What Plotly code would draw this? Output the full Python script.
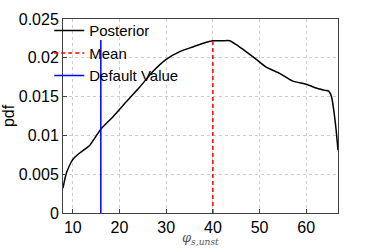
import plotly.graph_objects as go

phi = [7.9, 8.6, 10.0, 11.4, 13.6, 16.0, 18.6, 21.4, 24.3, 27.1, 30.0, 32.9, 35.7, 38.6, 40.0,
       42.0, 43.6, 45.0, 47.1, 49.3, 51.4, 54.3, 57.1, 60.0, 62.1, 64.0, 64.8, 65.4, 65.9, 66.4, 66.8]
pdf = [0.0032, 0.0051, 0.0069, 0.0077, 0.0087, 0.0108, 0.0124, 0.0143, 0.0162, 0.0182, 0.0198,
       0.0208, 0.0214, 0.0220, 0.0222, 0.0222, 0.0222, 0.0217, 0.0208, 0.0198, 0.0188, 0.0180,
       0.0170, 0.0166, 0.0161, 0.0158, 0.0157, 0.0150, 0.0132, 0.0107, 0.0081]
mean_x = 40.0
mean_top = 0.0222
default_x = 16.0
default_top = 0.0223
xticks = [10, 20, 30, 40, 50, 60]
yticks = [0, 0.005, 0.01, 0.015, 0.02, 0.025]
ytick_labels = ["0", "0.005", "0.01", "0.015", "0.02", "0.025"]
x_title = "<i>φ</i><sub><i>s,unst</i></sub>"

fig = go.Figure()
fig.add_trace(go.Scatter(x=phi, y=pdf, mode="lines", name="Posterior",
                         line=dict(color="black", width=1.5, shape="spline", smoothing=0.6)))
fig.add_trace(go.Scatter(x=[mean_x, mean_x], y=[0, mean_top], mode="lines", name="Mean",
                         line=dict(color="red", width=1.5, dash="4px,3px")))
fig.add_trace(go.Scatter(x=[default_x, default_x], y=[0, default_top], mode="lines", name="Default Value",
                         line=dict(color="blue", width=1.5)))

axis_common = dict(showline=True, linecolor="#404040", linewidth=1, mirror=True,
                   ticks="inside", ticklen=4, tickcolor="#404040",
                   showgrid=True, gridcolor="#cccccc", griddash="dot", gridwidth=1,
                   zeroline=False, automargin=False,
                   tickfont=dict(size=16, color="black", family="Liberation Sans"))

fig.update_layout(
    width=374, height=249,
    margin=dict(l=63, r=36, t=19, b=36, autoexpand=False),
    paper_bgcolor="white", plot_bgcolor="white",
    font=dict(family="Liberation Sans", size=16, color="black"),
    showlegend=True,
    legend=dict(x=-0.05, y=1.025, xanchor="left", yanchor="top", bgcolor="rgba(0,0,0,0)",
                font=dict(size=15, color="black"), tracegroupgap=0, itemwidth=30),
    xaxis=dict(range=[7.9, 66.8], tickvals=xticks, ticklabelstandoff=0, **axis_common),
    yaxis=dict(range=[0, 0.025], tickvals=yticks, ticktext=ytick_labels, **axis_common,
               title=dict(text="pdf", standoff=4, font=dict(size=16, color="black"))),
    annotations=[dict(text=x_title, xref="paper", yref="paper", x=0.5, y=-36 / 194,
                      xanchor="center", yanchor="bottom", yshift=0, showarrow=False,
                      font=dict(family="DejaVu Serif", size=13, color="#555555"))],
)

fig.write_html("out.html", config={"displayModeBar": False},
               post_script="document.body.style.margin='0';document.body.style.overflow='hidden';")
